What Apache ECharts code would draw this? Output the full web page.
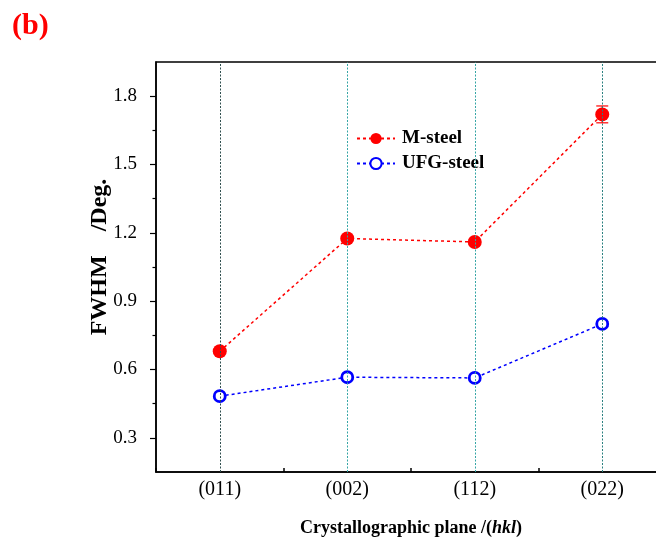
<!DOCTYPE html>
<html>
<head>
<meta charset="utf-8">
<script src="https://cdn.jsdelivr.net/npm/echarts@6/dist/echarts.min.js"></script>
<style>html,body{margin:0;padding:0;background:#fff}#c{width:656px;height:549px}</style>
</head>
<body>
<div id="c"></div>
<script>
const categories = ['(011)', '(002)', '(112)', '(022)'];
const mSteel = [0.68, 1.175, 1.16, 1.72];
const mErr = [0.01, 0.01, 0.01, 0.037];
const ufgSteel = [0.483, 0.566, 0.563, 0.80];
const ufgErr = [0.008, 0.008, 0.008, 0.01];
const yTicks = [0.3, 0.6, 0.9, 1.2, 1.5, 1.8];
const yMinorTicks = [0.45, 0.75, 1.05, 1.35, 1.65];

const FONT = '"Liberation Serif", "Times New Roman", serif';
const chart = echarts.init(document.getElementById('c'), null, {renderer: 'canvas'});

function errBars(vals, errs, color) {
  return {
    type: 'custom',
    silent: true,
    z: 1,
    data: categories.map((c, i) => [i, vals[i] - errs[i], vals[i] + errs[i]]),
    renderItem: function (params, api) {
      const lo = api.coord([api.value(0), api.value(1)]);
      const hi = api.coord([api.value(0), api.value(2)]);
      const w = 6;
      const st = {stroke: color, lineWidth: 1.2};
      return {type: 'group', children: [
        {type: 'line', shape: {x1: lo[0], y1: lo[1], x2: hi[0], y2: hi[1]}, style: st},
        {type: 'line', shape: {x1: lo[0] - w, y1: lo[1], x2: lo[0] + w, y2: lo[1]}, style: st},
        {type: 'line', shape: {x1: hi[0] - w, y1: hi[1], x2: hi[0] + w, y2: hi[1]}, style: st}
      ]};
    }
  };
}

const vLineColors = ['#2f4f4f', '#35a5a5', '#35a5a5', '#2a8080'];

chart.setOption({
  animation: false,
  title: {
    text: '(b)', left: 7, top: 6,
    textStyle: {color: '#ff0000', fontFamily: FONT, fontWeight: 'bold', fontSize: 30}
  },
  grid: {left: 156, top: 62, width: 510, height: 410, outerBoundsMode: 'none', containLabel: false,
    show: true, borderColor: '#000', borderWidth: 1.5, backgroundColor: 'transparent'},
  legend: {
    left: 356, top: 129, padding: 0, orient: 'vertical', itemWidth: 38, itemHeight: 14, itemGap: 6,
    data: ['M-steel', 'UFG-steel'],
    textStyle: {fontFamily: FONT, fontWeight: 'bold', fontSize: 19, color: '#000', padding: [0, 0, 0, 2]}
  },
  xAxis: {
    type: 'category', data: categories, boundaryGap: true,
    axisLine: {show: true, lineStyle: {color: '#000', width: 1.5}},
    axisTick: {show: true, length: 4, inside: true, lineStyle: {color: '#000', width: 1.5}},
    axisLabel: {color: '#000', fontFamily: FONT, fontSize: 20, margin: 8},
    splitLine: {show: false},
    name: '{b|Crystallographic plane /(}{i|hkl}{b|)}',
    nameLocation: 'middle', nameGap: 47, nameMoveOverlap: false,
    nameTextStyle: {
      rich: {
        b: {fontFamily: FONT, fontWeight: 'bold', fontSize: 18, color: '#000'},
        i: {fontFamily: FONT, fontWeight: 'bold', fontStyle: 'italic', fontSize: 18, color: '#000'}
      }
    }
  },
  yAxis: [{
    type: 'value', min: 0.15, max: 1.95,
    axisLine: {show: true, lineStyle: {color: '#000', width: 1.5}},
    axisTick: {show: true, length: 6, customValues: yTicks, lineStyle: {color: '#000', width: 1.2}},
    axisLabel: {color: '#000', fontFamily: FONT, fontSize: 19, margin: 19, customValues: yTicks,
      formatter: v => v.toFixed(1)},
    splitLine: {show: false},
    name: 'FWHM    /Deg.', nameLocation: 'middle', nameGap: 44, nameMoveOverlap: false,
    nameTextStyle: {fontFamily: FONT, fontWeight: 'bold', fontSize: 24, color: '#000', padding: [0, 0, 0, 20]}
  }, {
    type: 'value', min: 0.15, max: 1.95, position: 'left',
    axisLine: {show: false},
    axisTick: {show: true, length: 3.5, customValues: yMinorTicks, lineStyle: {color: '#000', width: 1.2}},
    axisLabel: {show: false},
    splitLine: {show: false}
  }],
  series: [
    {
      name: 'M-steel', type: 'line', data: mSteel, z: 3,
      symbol: 'circle', symbolSize: 14,
      itemStyle: {color: '#ff0000'},
      lineStyle: {color: '#ff0000', width: 1.5, type: [3, 3]},
      markLine: {
        silent: true, symbol: ['none', 'none'], label: {show: false},
        data: categories.map((c, i) => ({xAxis: c, lineStyle: {color: vLineColors[i], type: [2, 1.5], width: 1}}))
      }
    },
    {
      name: 'UFG-steel', type: 'line', data: ufgSteel, z: 3,
      symbol: 'circle', symbolSize: 11,
      itemStyle: {color: '#ffffff', borderColor: '#0000ff', borderWidth: 2.8},
      lineStyle: {color: '#0000ff', width: 1.5, type: [3, 3]}
    },
    errBars(mSteel, mErr, '#ff0000'),
    errBars(ufgSteel, ufgErr, '#0000ff')
  ]
});
</script>
</body>
</html>
